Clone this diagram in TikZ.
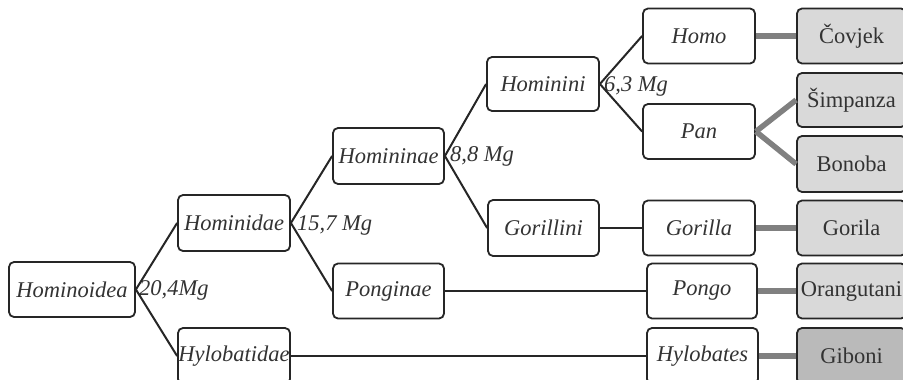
\documentclass[tikz,border=0pt]{standalone}
\usepackage{fontspec}
\setmainfont{Liberation Serif}
\begin{document}
\begin{tikzpicture}[x=1pt,y=-1pt,
  taxon/.style={draw=black!85, line width=1.8pt, rounded corners=5pt, fill=white,
    inner sep=0pt, text=black!80, font=\fontsize{22.5}{26}\selectfont\itshape},
  common/.style={draw=black!85, line width=1.8pt, rounded corners=5pt, fill=black!15,
    inner sep=0pt, text=black!80, font=\fontsize{22.5}{26}\selectfont,
    minimum width=109pt},
  darker/.style={fill=black!27},
  age/.style={anchor=west, inner sep=0pt, text=black!80, font=\fontsize{22.5}{26}\selectfont\itshape},
  link/.style={draw=black!85, line width=2pt},
  glink/.style={draw=black!50, line width=5.5pt}]
\useasboundingbox (0,0) rectangle (903,380);
\clip (0,0) rectangle (903,380);
\fill[white] (0,0) rectangle (903,380);

\node[taxon, minimum width=126pt, minimum height=55pt] (hominoidea) at (72,289.5) {Hominoidea};
\node[taxon, minimum width=112pt, minimum height=56pt] (hominidae) at (234,223) {Hominidae};
\node[taxon, minimum width=112pt, minimum height=56pt] (hylobatidae) at (234,356) {Hylobatidae};
\node[taxon, minimum width=111pt, minimum height=56pt] (homininae) at (388.5,156) {Homininae};
\node[taxon, minimum width=111pt, minimum height=55pt] (ponginae) at (388.5,291) {Ponginae};
\node[taxon, minimum width=112pt, minimum height=54pt] (hominini) at (543,84) {Hominini};
\node[taxon, minimum width=111pt, minimum height=56pt] (gorillini) at (543.5,228) {Gorillini};
\node[taxon, minimum width=112pt, minimum height=55pt] (homo) at (699,36) {Homo};
\node[taxon, minimum width=112pt, minimum height=55pt] (pan) at (699,131.5) {Pan};
\node[taxon, minimum width=112pt, minimum height=55pt] (gorilla) at (699,228) {Gorilla};
\node[taxon, minimum width=110pt, minimum height=55pt] (pongo) at (702,291) {Pongo};
\node[taxon, minimum width=111pt, minimum height=56pt] (hylobates) at (702.5,356) {Hylobates};

\node[common, minimum height=55pt] (covjek) at (851.5,36) {Čovjek};
\node[common, minimum height=54pt] (simpanza) at (851.5,100) {Šimpanza};
\node[common, minimum height=56pt] (bonoba) at (851.5,164) {Bonoba};
\node[common, minimum height=55pt] (gorila) at (851.5,228) {Gorila};
\node[common, minimum height=55pt] (orangutani) at (851.5,291) {Orangutani};
\node[common, darker, minimum height=56pt] (giboni) at (851.5,356) {Giboni};

\node[age] (a1) at (139,290) {20,4Mg};
\node[age] (a2) at (297,225) {15,7 Mg};
\node[age] (a3) at (450,156) {8,8 Mg};
\node[age] (a4) at (604,86) {6,3 Mg};

\draw[link] (hominoidea.east) -- (hominidae.west);
\draw[link] (hominoidea.east) -- (hylobatidae.west);
\draw[link] (hominidae.east) -- (homininae.west);
\draw[link] (hominidae.east) -- (ponginae.west);
\draw[link] (homininae.east) -- (hominini.west);
\draw[link] (homininae.east) -- (gorillini.west);
\draw[link] (hominini.east) -- (homo.west);
\draw[link] (hominini.east) -- (pan.west);
\draw[link] (gorillini.east) -- (gorilla.west);
\draw[link] (ponginae.east) -- (pongo.west);
\draw[link] (hylobatidae.east) -- (hylobates.west);

\draw[glink] (homo.east) -- (covjek.west);
\draw[glink] (pan.east) -- (simpanza.west);
\draw[glink] (pan.east) -- (bonoba.west);
\draw[glink] (gorilla.east) -- (gorila.west);
\draw[glink] (pongo.east) -- (orangutani.west);
\draw[glink] (hylobates.east) -- (giboni.west);
\end{tikzpicture}
\end{document}
